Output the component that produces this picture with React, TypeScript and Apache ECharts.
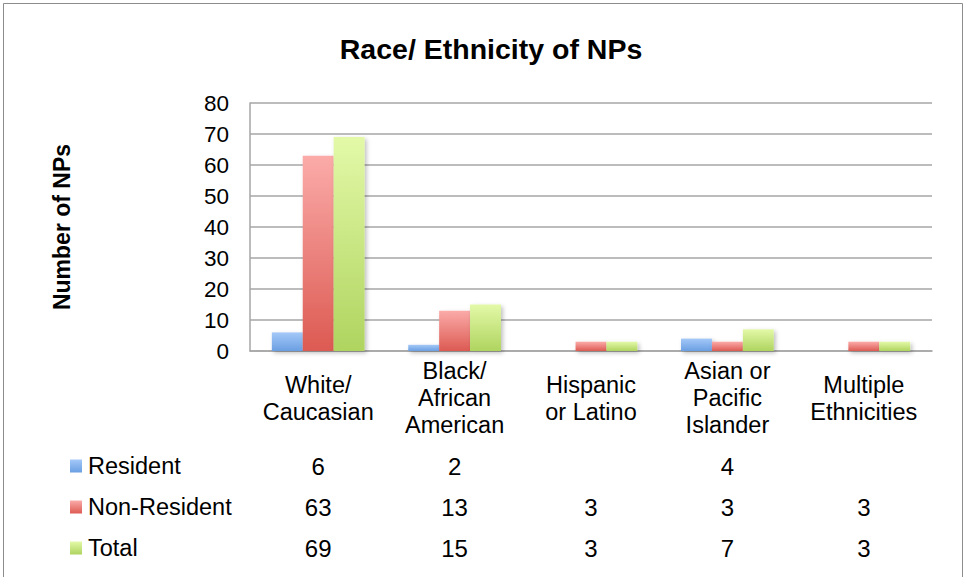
import React, { useEffect, useRef } from "react";
import * as echarts from "echarts";

const categories = ["White/\nCaucasian", "Black/\nAfrican\nAmerican", "Hispanic\nor Latino", "Asian or\nPacific\nIslander", "Multiple\nEthnicities"];
const seriesNames = ["Resident", "Non-Resident", "Total"];
const resident: (number | null)[] = [6, 2, null, 4, null];
const nonResident: (number | null)[] = [63, 13, 3, 3, 3];
const total: (number | null)[] = [69, 15, 3, 7, 3];
const yTicks = { min: 0, max: 80, interval: 10 };

const FONT = "Liberation Sans, Arial, sans-serif";

const grad = (top: string, bottom: string) =>
  new echarts.graphic.LinearGradient(0, 0, 0, 1, [
    { offset: 0, color: top },
    { offset: 1, color: bottom },
  ]);

const colors = [
  grad("#a4c8f8", "#6a9fe2"),
  grad("#fbaba9", "#dc5a52"),
  grad("#e3f9a8", "#afd45f"),
];

export default function App() {
  const ref = useRef<HTMLDivElement>(null);
  useEffect(() => {
    if (!ref.current) return;
    const chart = echarts.init(ref.current, undefined, { renderer: "svg" });
    const dataRows = [resident, nonResident, total];
    const tableAxes = dataRows.map((row, i) => ({
      type: "category" as const,
      gridIndex: 0,
      position: "bottom" as const,
      data: row.map((v) => (v == null ? "" : String(v))),
      axisLine: { show: false },
      axisTick: { show: false },
      splitLine: { show: false },
      axisLabel: {
        interval: 0,
        margin: 115 + i * 41,
        verticalAlign: "middle",
        fontSize: 24,
        color: "#000",
        fontFamily: FONT,
      },
    }));
    chart.setOption({
      animation: false,
      backgroundColor: "#fff",
      title: {
        text: "Race/ Ethnicity of NPs",
        left: 486,
        textAlign: "center",
        top: 29,
        textStyle: { fontSize: 28.5, fontWeight: "bold", color: "#000", fontFamily: FONT },
      },
      legend: {
        orient: "vertical",
        left: 65,
        top: 449,
        itemWidth: 12,
        itemHeight: 13,
        itemGap: 17,
        icon: "rect",
        data: seriesNames,
        textStyle: { fontSize: 23.5, color: "#000", fontFamily: FONT, padding: [0, 0, 0, 1] },
      },
      grid: { left: 250, right: 33, top: 103, bottom: 226, containLabel: false },
      xAxis: [
        {
          type: "category",
          data: categories,
          axisLine: { show: true, lineStyle: { color: "#a6a6a6", width: 1.5 } },
          axisTick: { show: false },
          axisLabel: {
            interval: 0,
            margin: 47,
            verticalAlign: "middle",
            fontSize: 23.5,
            lineHeight: 27,
            color: "#000",
            fontFamily: FONT,
          },
        },
        ...tableAxes,
      ],
      yAxis: {
        type: "value",
        min: yTicks.min,
        max: yTicks.max,
        interval: yTicks.interval,
        name: "Number of NPs",
        nameLocation: "middle",
        nameGap: 177,
        nameRotate: 90,
        nameTextStyle: { fontSize: 23, fontWeight: "bold", color: "#000", fontFamily: FONT },
        axisLine: { show: true, lineStyle: { color: "#a6a6a6", width: 1.5 } },
        axisTick: { show: false },
        splitLine: { lineStyle: { color: "#a6a6a6", width: 1.5 } },
        axisLabel: { fontSize: 22.5, color: "#000", margin: 21, fontFamily: FONT },
      },
      series: [resident, nonResident, total].map((d, i) => ({
        name: seriesNames[i],
        type: "bar",
        data: d,
        barGap: "0%",
        barCategoryGap: "32%",
        itemStyle: {
          color: colors[i],
          shadowColor: "rgba(0,0,0,0.25)",
          shadowBlur: 4,
          shadowOffsetX: 2,
          shadowOffsetY: 2,
        },
      })),
      graphic: [
        {
          type: "rect",
          shape: { x: 3.5, y: 3.5, width: 959, height: 580 },
          style: { fill: "none", stroke: "#8c8c8c", lineWidth: 1 },
          silent: true,
        },
      ],
    });
    return () => chart.dispose();
  }, []);
  return (
    <div
      ref={ref}
      style={{ position: "absolute", left: 0, top: 0, width: 965, height: 577 }}
    />
  );
}
